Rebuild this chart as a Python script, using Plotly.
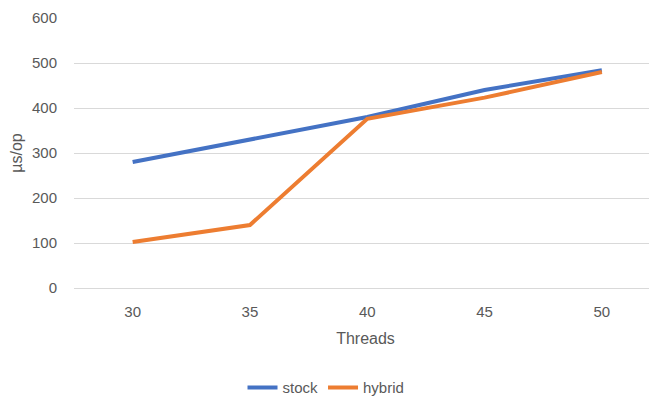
import plotly.graph_objects as go

threads = ["30", "35", "40", "45", "50"]
stock = [280, 331, 380, 440, 484]
hybrid = [102, 140, 376, 423, 480]
y_ticks = [0, 100, 200, 300, 400, 500, 600]

FONT = "Liberation Sans"
GRAY = "#595959"

fig = go.Figure()
fig.add_trace(go.Scatter(x=threads, y=stock, name="stock", mode="lines",
                         line=dict(color="#4472C4", width=4)))
fig.add_trace(go.Scatter(x=threads, y=hybrid, name="hybrid", mode="lines",
                         line=dict(color="#ED7D31", width=4)))

fig.update_layout(
    width=649, height=394,
    margin=dict(l=66, r=0, t=10, b=114),
    paper_bgcolor="white", plot_bgcolor="white",
    font=dict(family=FONT, size=15, color=GRAY),
    showlegend=True,
    legend=dict(orientation="h", xref="container", yref="container",
                x=0.49, xanchor="center", y=0.036, yanchor="middle",
                font=dict(size=15, color=GRAY), itemwidth=30,
                tracegroupgap=0),
    xaxis=dict(type="category", range=[-0.5, 4.47], showgrid=False,
               showline=False, zeroline=False, ticks="",
               ticklabelstandoff=13,
               title=dict(text="Threads", standoff=13,
                          font=dict(size=16, color=GRAY))),
    yaxis=dict(range=[0, 600], tickvals=y_ticks, showgrid=True,
               gridcolor="#d9d9d9", gridwidth=1, zeroline=True,
               zerolinecolor="#d9d9d9", zerolinewidth=1, showline=False,
               ticks="", ticklabelstandoff=16,
               title=dict(text="µs/op", standoff=10,
                          font=dict(size=16, color=GRAY))),
)

fig.write_html("out.html")
